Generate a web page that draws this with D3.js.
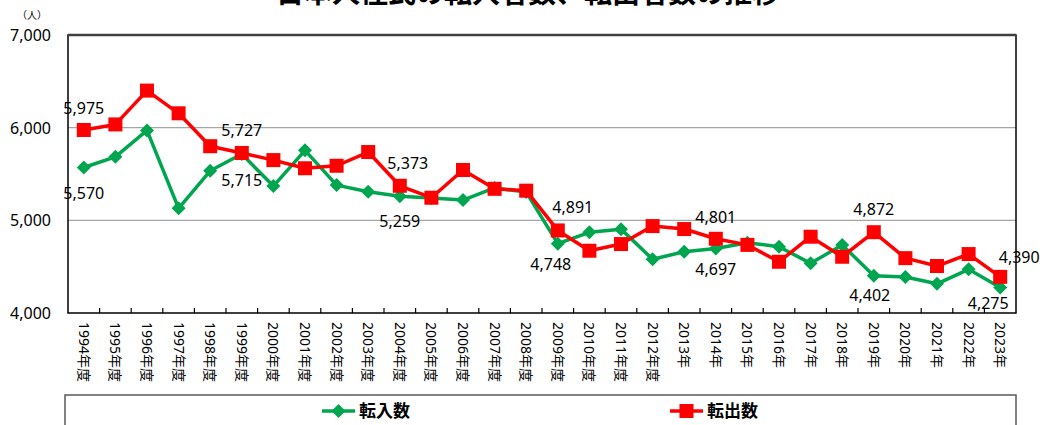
<!DOCTYPE html>
<html>
  <head>
    <meta charset="utf-8">
    <script src="https://d3js.org/d3.v7.min.js"></script>
    <style>
      body { margin: 0; background: #fff; }
      svg { display: block; }
      text { font-family: "Noto Sans", "Noto Sans CJK JP", sans-serif; fill: #000; }
    </style>
  </head>
  <body>
    <script type="text/javascript">
      // data
      var years = ["1994年度","1995年度","1996年度","1997年度","1998年度","1999年度","2000年度","2001年度",
        "2002年度","2003年度","2004年度","2005年度","2006年度","2007年度","2008年度","2009年度","2010年度",
        "2011年度","2012年度","2013年","2014年","2015年","2016年","2017年","2018年","2019年","2020年",
        "2021年","2022年","2023年"];
      var tennyu = [5570,5685,5970,5130,5535,5715,5370,5755,5380,5308,5259,5240,5219,5350,5305,4748,4871,
        4905,4580,4661,4697,4758,4715,4536,4734,4402,4388,4315,4471,4275];
      var tenshutsu = [5975,6035,6400,6155,5800,5727,5650,5562,5589,5737,5373,5244,5543,5340,5320,4891,4672,
        4744,4938,4906,4801,4735,4553,4823,4607,4872,4592,4507,4636,4390];
      var yTicks = [4000,5000,6000,7000];
      var labelIdx = [0,5,10,15,20,25,29];
      var title = "日本人住民の転入者数、転出者数の推移";

      var W = 1045, H = 425;
      var plotL = 68, plotR = 1016, plotT = 35, plotB = 313;

      var svg = d3.select("body").append("svg")
        .attr("width", W).attr("height", H);

      var x = d3.scaleBand().domain(years).range([plotL, plotR]);
      var y = d3.scaleLinear().domain([4000, 7000]).range([plotB, plotT]);
      var cx = function(i) { return x(years[i]) + x.bandwidth() / 2; };

      // title (cut off at top)
      svg.append("text")
        .attr("x", 528).attr("y", 3)
        .attr("text-anchor", "middle")
        .style("font-size", "28px").style("font-weight", "bold")
        .text(title);

      svg.append("text")
        .attr("x", 32).attr("y", 19)
        .attr("text-anchor", "middle")
        .style("font-size", "10px")
        .text("（人）");

      // grid
      svg.selectAll(".grid").data(yTicks.slice(1, 3)).enter().append("line")
        .attr("x1", plotL).attr("x2", plotR)
        .attr("y1", function(d) { return y(d); }).attr("y2", function(d) { return y(d); })
        .attr("stroke", "#a6a6a6").attr("stroke-width", 1.2);

      // y labels
      svg.selectAll(".ylab").data(yTicks).enter().append("text")
        .attr("x", 51).attr("y", function(d) { return y(d) + 6; })
        .attr("text-anchor", "end")
        .style("font-size", "16px")
        .text(function(d) { return d3.format(",")(d); });

      // frame
      svg.append("rect")
        .attr("x", plotL).attr("y", plotT)
        .attr("width", plotR - plotL).attr("height", plotB - plotT)
        .attr("fill", "none").attr("stroke", "#000").attr("stroke-width", 1.5);
      svg.append("line")
        .attr("x1", plotL).attr("x2", plotR).attr("y1", plotT).attr("y2", plotT)
        .attr("stroke", "#404040").attr("stroke-width", 2.5);

      // x ticks (inward, at band boundaries)
      svg.selectAll(".xt").data(years.slice(1)).enter().append("line")
        .attr("x1", function(d) { return x(d); }).attr("x2", function(d) { return x(d); })
        .attr("y1", plotB).attr("y2", plotB - 5)
        .attr("stroke", "#000").attr("stroke-width", 1.2);

      // x labels rotated
      svg.selectAll(".xlab").data(years).enter().append("text")
        .attr("transform", function(d, i) { return "translate(" + (cx(i) - 5) + "," + 322 + ") rotate(90)"; })
        .style("font-size", "14px")
        .text(function(d) { return d; });

      var line = d3.line()
        .x(function(d, i) { return cx(i); })
        .y(function(d) { return y(d); });

      var green = "#00a64f", red = "#ff0000";

      svg.append("path").datum(tennyu)
        .attr("d", line).attr("fill", "none")
        .attr("stroke", green).attr("stroke-width", 3.5).attr("stroke-linejoin", "round");
      svg.append("path").datum(tenshutsu)
        .attr("d", line).attr("fill", "none")
        .attr("stroke", red).attr("stroke-width", 3.5).attr("stroke-linejoin", "round");

      svg.selectAll(".dia").data(tennyu).enter().append("path")
        .attr("d", "M0,-7L7,0L0,7L-7,0Z")
        .attr("transform", function(d, i) { return "translate(" + cx(i) + "," + y(d) + ")"; })
        .attr("fill", green);

      svg.selectAll(".sq").data(tenshutsu).enter().append("rect")
        .attr("x", function(d, i) { return cx(i) - 7; })
        .attr("y", function(d) { return y(d) - 7; })
        .attr("width", 14).attr("height", 14)
        .attr("fill", red);

      // value labels
      var outOff = {0: [0, -22], 5: [0, -23], 10: [8, -23], 15: [15, -23], 20: [0, -22], 25: [0, -23], 29: [19, -20]};
      var inOff = {0: [0, 25], 5: [0, 26], 10: [0, 25], 15: [-7, 20], 20: [0, 21], 25: [-4, 19], 29: [-12, 15]};

      labelIdx.forEach(function(i) {
        svg.append("text")
          .attr("x", cx(i) + outOff[i][0]).attr("y", y(tenshutsu[i]) + outOff[i][1] + 6)
          .attr("text-anchor", "middle").style("font-size", "16px")
          .text(d3.format(",")(tenshutsu[i]));
        svg.append("text")
          .attr("x", cx(i) + inOff[i][0]).attr("y", y(tennyu[i]) + inOff[i][1] + 6)
          .attr("text-anchor", "middle").style("font-size", "16px")
          .text(d3.format(",")(tennyu[i]));
      });

      // legend
      svg.append("rect")
        .attr("x", 65).attr("y", 395).attr("width", 951).attr("height", 60)
        .attr("fill", "#fff").attr("stroke", "#595959").attr("stroke-width", 1.5);

      var lg = svg.append("g");
      lg.append("line").attr("x1", 322).attr("x2", 355).attr("y1", 411).attr("y2", 411)
        .attr("stroke", green).attr("stroke-width", 3.5);
      lg.append("path").attr("d", "M0,-7L7,0L0,7L-7,0Z")
        .attr("transform", "translate(338.5,411)").attr("fill", green);
      lg.append("text").attr("x", 359).attr("y", 417).style("font-size", "17px").style("font-weight", "bold")
        .text("転入数");

      lg.append("line").attr("x1", 670).attr("x2", 703).attr("y1", 411).attr("y2", 411)
        .attr("stroke", red).attr("stroke-width", 3.5);
      lg.append("rect").attr("x", 679.5).attr("y", 404).attr("width", 14).attr("height", 14).attr("fill", red);
      lg.append("text").attr("x", 707).attr("y", 417).style("font-size", "17px").style("font-weight", "bold")
        .text("転出数");
    </script>
  </body>
</html>
